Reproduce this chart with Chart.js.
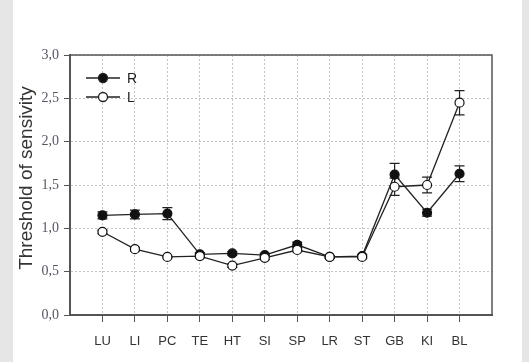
<!DOCTYPE html>
<html>
<head>
<meta charset="utf-8">
<script src="https://cdn.jsdelivr.net/npm/chart.js@4.4.0/dist/chart.umd.min.js"></script>
<style>
  html, body { margin: 0; padding: 0; background: #e6e6e6; }
  #panel { position: absolute; left: 13px; top: 0; width: 509px; height: 362px; background: #fff; }
</style>
</head>
<body>
<div id="panel"><canvas id="chart" width="509" height="362"></canvas></div>
<script>
// categories and values
const organs = ['LU', 'LI', 'PC', 'TE', 'HT', 'SI', 'SP', 'LR', 'ST', 'GB', 'KI', 'BL'];
const rightVals = [1.15, 1.16, 1.17, 0.70, 0.71, 0.69, 0.81, 0.67, 0.68, 1.62, 1.18, 1.63];
const rightErr  = [0.04, 0.05, 0.07, 0.02, 0.02, 0.02, 0.03, 0.01, 0.02, 0.13, 0.04, 0.09];
const leftVals  = [0.96, 0.76, 0.67, 0.68, 0.57, 0.66, 0.75, 0.67, 0.67, 1.48, 1.50, 2.45];
const leftErr   = [0.02, 0.02, 0.01, 0.02, 0.02, 0.02, 0.02, 0.01, 0.02, 0.10, 0.09, 0.14];
const yTicks = [0, 0.5, 1.0, 1.5, 2.0, 2.5, 3.0];
const yTitle = 'Threshold of sensivity';

const toPoints = vals => vals.map((v, i) => ({ x: i + 1, y: v }));

// error bars, frame, legend and the y title
const extras = {
    id: 'extras',
    beforeDatasetsDraw(chart) {
        const ctx = chart.ctx;
        const xs = chart.scales.x, ys = chart.scales.y;
        ctx.save();
        ctx.strokeStyle = '#222';
        ctx.lineWidth = 1.2;
        [[rightVals, rightErr], [leftVals, leftErr]].forEach(([vals, errs]) => {
            vals.forEach((v, i) => {
                const px = xs.getPixelForValue(i + 1);
                const top = ys.getPixelForValue(v + errs[i]);
                const bot = ys.getPixelForValue(v - errs[i]);
                ctx.beginPath();
                ctx.moveTo(px, top); ctx.lineTo(px, bot);
                ctx.moveTo(px - 5, top); ctx.lineTo(px + 5, top);
                ctx.moveTo(px - 5, bot); ctx.lineTo(px + 5, bot);
                ctx.stroke();
            });
        });
        ctx.restore();
    },
    afterDraw(chart) {
        const ctx = chart.ctx;
        const a = chart.chartArea;
        ctx.save();
        ctx.strokeStyle = '#555';
        ctx.lineWidth = 1.5;
        ctx.beginPath();
        ctx.moveTo(a.left, a.top); ctx.lineTo(a.right, a.top); ctx.lineTo(a.right, a.bottom);
        ctx.stroke();

        // legend
        const items = [['R', '#111'], ['L', '#fff']];
        ctx.font = '14px "Liberation Sans", Arial, sans-serif';
        ctx.textBaseline = 'middle';
        items.forEach(([name, fill], k) => {
            const y = a.top + 23 + k * 19;
            const x0 = a.left + 16;
            ctx.strokeStyle = '#222';
            ctx.lineWidth = 1.3;
            ctx.beginPath(); ctx.moveTo(x0, y); ctx.lineTo(x0 + 34, y); ctx.stroke();
            ctx.beginPath(); ctx.arc(x0 + 17, y, 4.5, 0, Math.PI * 2);
            ctx.fillStyle = fill; ctx.fill(); ctx.stroke();
            ctx.fillStyle = '#222';
            ctx.fillText(name, x0 + 41, y + 1);
        });

        // y title
        ctx.translate(14, (a.top + a.bottom) / 2 - 7);
        ctx.rotate(-Math.PI / 2);
        ctx.font = '19px "Liberation Sans", Arial, sans-serif';
        ctx.textAlign = 'center';
        ctx.fillStyle = '#333';
        ctx.fillText(yTitle, 0, 0);
        ctx.restore();
    }
};

new Chart(document.getElementById('chart'), {
    type: 'line',
    data: {
        datasets: [{
            label: 'R',
            data: toPoints(rightVals),
            borderColor: '#222',
            borderWidth: 1.3,
            pointRadius: 4.5,
            pointBackgroundColor: '#111',
            pointBorderColor: '#111',
            pointBorderWidth: 1.2,
            order: 1
        }, {
            label: 'L',
            data: toPoints(leftVals),
            borderColor: '#222',
            borderWidth: 1.3,
            pointRadius: 4.5,
            pointBackgroundColor: '#fff',
            pointBorderColor: '#111',
            pointBorderWidth: 1.2,
            order: 0
        }]
    },
    options: {
        responsive: false,
        animation: false,
        layout: { padding: { top: 55, right: 30, left: 0, bottom: 0 } },
        plugins: { legend: { display: false }, tooltip: { enabled: false } },
        scales: {
            x: {
                type: 'linear',
                min: 0,
                max: 13,
                afterBuildTicks: s => { s.ticks = organs.map((o, i) => ({ value: i + 1 })); },
                afterFit: s => { s.height = 47; },
                ticks: {
                    autoSkip: false,
                    maxRotation: 0,
                    padding: 12,
                    color: '#333',
                    font: { family: '"Liberation Sans", Arial, sans-serif', size: 13 },
                    callback: v => organs[v - 1] || ''
                },
                grid: { color: '#c4c4c4', tickColor: '#555', tickLength: 7, lineWidth: 1 },
                border: { color: '#555', width: 2, dash: [2, 2] }
            },
            y: {
                min: 0,
                max: 3,
                afterBuildTicks: s => { s.ticks = yTicks.map(v => ({ value: v })); },
                afterFit: s => { s.width = 57; },
                ticks: {
                    padding: 5,
                    color: '#556',
                    font: { family: '"Liberation Serif", "Times New Roman", serif', size: 14 },
                    callback: v => v.toFixed(1).replace('.', ',')
                },
                grid: { color: '#c4c4c4', tickColor: '#555', tickLength: 6, lineWidth: 1 },
                border: { color: '#555', width: 2, dash: [2, 2] }
            }
        }
    },
    plugins: [extras]
});
</script>
</body>
</html>
